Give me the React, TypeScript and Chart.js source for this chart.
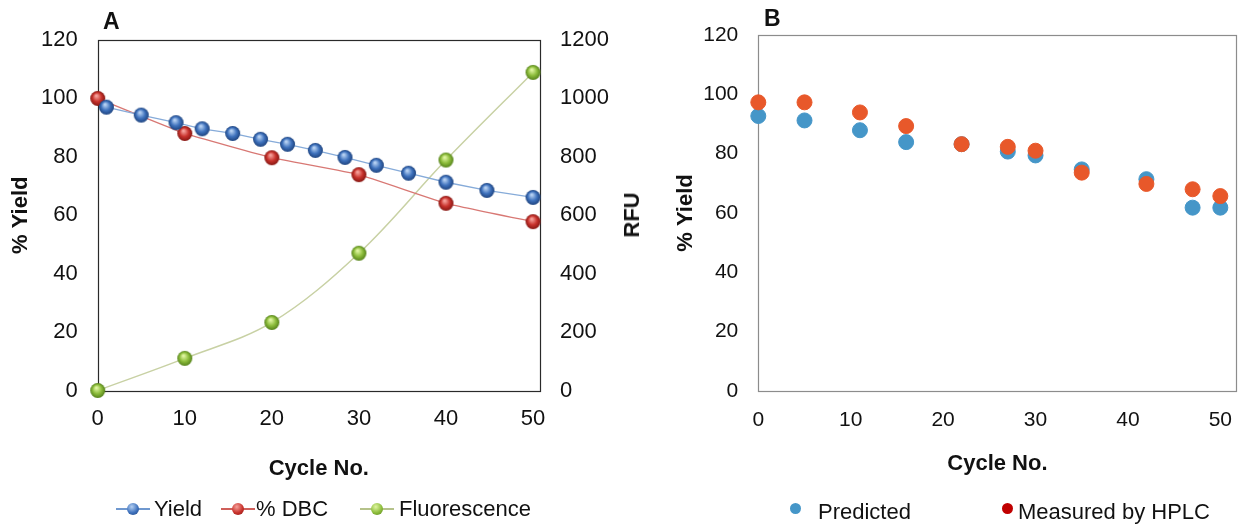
import React, { useEffect, useRef } from "react";
import { Chart, registerables } from "chart.js";

Chart.register(...registerables);

// ---- Panel A data ----
const yieldCycles = [1, 5, 9, 12, 15.5, 18.7, 21.8, 25, 28.4, 32, 35.7, 40, 44.7, 50];
const yieldValues = [97, 94.3, 91.7, 89.6, 88, 86, 84.3, 82.2, 79.8, 77.1, 74.4, 71.3, 68.5, 66.1];
const dbcCycles = [0, 10, 20, 30, 40, 50];
const dbcValues = [100, 88, 79.7, 73.9, 64.1, 57.8];
const fluorCycles = [0, 10, 20, 30, 40, 50];
const fluorValues = [0, 110, 233, 470, 789, 1089];

// ---- Panel B data ----
const bCycles = [0, 5, 11, 16, 22, 27, 30, 35, 42, 47, 50];
const predictedValues = [92.7, 91.2, 87.9, 83.9, 83.2, 80.7, 79.4, 74.7, 71.4, 61.8, 61.8];
const measuredValues = [97.3, 97.3, 93.9, 89.3, 83.2, 82.3, 81.0, 73.6, 69.8, 68.0, 65.7];

// ---- Tick labels ----
const xTicks = [0, 10, 20, 30, 40, 50];
const yTicks = [0, 20, 40, 60, 80, 100, 120];
const rfuTicks = [0, 200, 400, 600, 800, 1000, 1200];

const FONT = "'Liberation Sans', Arial, Helvetica, sans-serif";

function sphere(base: string, light: string, dark: string, r: number) {
  const c = document.createElement("canvas");
  const s = Math.ceil(r * 2 + 2);
  c.width = s;
  c.height = s;
  const g = c.getContext("2d")!;
  const grad = g.createRadialGradient(s * 0.42, s * 0.34, r * 0.1, s / 2, s / 2, r);
  grad.addColorStop(0, light);
  grad.addColorStop(0.55, base);
  grad.addColorStop(1, dark);
  g.fillStyle = grad;
  g.beginPath();
  g.arc(s / 2, s / 2, r, 0, Math.PI * 2);
  g.fill();
  return c;
}

const framePlugin = {
  id: "frame",
  beforeDatasetsDraw(chart: any, _args: any, opts: any) {
    const { left, top, right, bottom } = chart.chartArea;
    const ctx = chart.ctx;
    ctx.save();
    ctx.strokeStyle = opts.color || "#000";
    ctx.lineWidth = opts.width || 1;
    ctx.strokeRect(Math.round(left) + 0.5, Math.round(top) + 0.5, Math.round(right - left), Math.round(bottom - top));
    ctx.restore();
  },
};

const tickFontA = { family: FONT, size: 22 };
const tickFontB = { family: FONT, size: 21 };
const titleFont = { family: FONT, size: 22, weight: "bold" as const };

function setTicks(values: number[]) {
  return (s: any) => {
    s.ticks = values.map((v) => ({ value: v }));
  };
}

const plainLabel = (v: any) => String(v);

function fitHeight(h: number) {
  return (s: any) => {
    s.height = h;
    s.paddingLeft = 0;
    s.paddingRight = 0;
  };
}
function fitWidth(w: number) {
  return (s: any) => {
    s.width = w;
  };
}

function ChartA() {
  const ref = useRef<HTMLCanvasElement>(null);
  useEffect(() => {
    const blue = sphere("#3f72bd", "#b5d0f2", "#1d437f", 7.5);
    const red = sphere("#c8322c", "#f5a09a", "#861713", 7.5);
    const green = sphere("#8dbd3c", "#dff5a0", "#55821a", 7.5);
    const chart = new Chart(ref.current!, {
      type: "line",
      data: {
        datasets: [
          {
            label: "Yield",
            data: yieldCycles.map((x, i) => ({ x, y: yieldValues[i] })),
            yAxisID: "y",
            borderColor: "#86abd9",
            borderWidth: 1.3,
            pointStyle: blue as any,
            pointRadius: 7.5,
            tension: 0,
            clip: false as any,
          },
          {
            label: "% DBC",
            data: dbcCycles.map((x, i) => ({ x, y: dbcValues[i] })),
            yAxisID: "y",
            borderColor: "#d87874",
            borderWidth: 1.3,
            pointStyle: red as any,
            pointRadius: 7.5,
            tension: 0.1,
            clip: false as any,
          },
          {
            label: "Fluorescence",
            data: fluorCycles.map((x, i) => ({ x, y: fluorValues[i] })),
            yAxisID: "y2",
            borderColor: "#c8d1a4",
            borderWidth: 1.5,
            pointStyle: green as any,
            pointRadius: 7.5,
            tension: 0.35,
            clip: false as any,
          },
        ],
      },
      options: {
        responsive: false,
        animation: false,
        layout: { padding: { left: 0, right: 0, top: 40, bottom: 36.5 } },
        plugins: {
          legend: { display: false },
          tooltip: { enabled: false },
          // @ts-ignore
          frame: { color: "#2a2a2a", width: 1.2 },
        },
        scales: {
          x: {
            type: "linear",
            min: 0,
            max: 50.8,
            afterBuildTicks: setTicks(xTicks),
            afterFit: fitHeight(100),
            grid: { display: false, drawTicks: false },
            border: { display: false },
            ticks: { padding: 15, font: tickFontA, color: "#111", maxRotation: 0, callback: plainLabel },
            title: { display: true, text: "Cycle No.", font: titleFont, color: "#111", padding: { top: 0, bottom: 8 } },
          },
          y: {
            type: "linear",
            position: "left",
            min: 0,
            max: 120,
            afterBuildTicks: setTicks(yTicks),
            afterFit: fitWidth(97.7),
            grid: { display: false, drawTicks: false },
            border: { display: false },
            ticks: { padding: 20, font: tickFontA, color: "#111", callback: plainLabel },
            title: { display: true, text: "% Yield", font: titleFont, color: "#111", padding: { top: 8, bottom: 0 } },
          },
          y2: {
            type: "linear",
            position: "right",
            min: 0,
            max: 1200,
            afterBuildTicks: setTicks(rfuTicks),
            afterFit: fitWidth(120),
            grid: { display: false, drawTicks: false },
            border: { display: false },
            ticks: { padding: 20, font: tickFontA, color: "#111", callback: plainLabel },
          },
        },
      },
      plugins: [framePlugin],
    });
    return () => chart.destroy();
  }, []);
  return <canvas ref={ref} width={660} height={527} style={{ position: "absolute", left: 0, top: 0, width: 660, height: 527 }} />;
}

function ChartB() {
  const ref = useRef<HTMLCanvasElement>(null);
  useEffect(() => {
    const chart = new Chart(ref.current!, {
      type: "scatter",
      data: {
        datasets: [
          {
            label: "Predicted",
            data: bCycles.map((x, i) => ({ x, y: predictedValues[i] })),
            backgroundColor: "#4596c8",
            borderColor: "#4596c8",
            pointRadius: 7.5,
            order: 1,
            clip: false as any,
          },
          {
            label: "Measured by HPLC",
            data: bCycles.map((x, i) => ({ x, y: measuredValues[i] })),
            backgroundColor: "#e8582a",
            borderColor: "#e8582a",
            pointRadius: 7.5,
            order: 0,
            clip: false as any,
          },
        ],
      },
      options: {
        responsive: false,
        animation: false,
        layout: { padding: { left: 0, right: 7, top: 35, bottom: 36 } },
        plugins: {
          legend: { display: false },
          tooltip: { enabled: false },
          // @ts-ignore
          frame: { color: "#8c8c8c", width: 1.2 },
        },
        scales: {
          x: {
            type: "linear",
            min: 0,
            max: 51.75,
            afterBuildTicks: setTicks(xTicks),
            afterFit: fitHeight(100),
            grid: { display: false, drawTicks: false },
            border: { display: false },
            ticks: { padding: 17, font: tickFontB, color: "#111", maxRotation: 0, callback: plainLabel },
            title: { display: true, text: "Cycle No.", font: titleFont, color: "#111", padding: { top: 0, bottom: 14 } },
          },
          y: {
            type: "linear",
            position: "left",
            min: 0,
            max: 120,
            afterBuildTicks: setTicks(yTicks),
            afterFit: fitWidth(98.3),
            grid: { display: false, drawTicks: false },
            border: { display: false },
            ticks: { padding: 20, font: tickFontB, color: "#111", callback: plainLabel },
            title: { display: true, text: "% Yield", font: titleFont, color: "#111", padding: { top: 13, bottom: 0 } },
          },
        },
      },
      plugins: [framePlugin],
    });
    return () => chart.destroy();
  }, []);
  return <canvas ref={ref} width={585} height={527} style={{ position: "absolute", left: 660, top: 0, width: 585, height: 527 }} />;
}

function LineMarker({ left, color, line, light, dark }: { left: number; color: string; line: string; light: string; dark: string }) {
  return (
    <div style={{ position: "absolute", left, top: 500, width: 34, height: 18 }}>
      <div style={{ position: "absolute", left: 0, top: 8, width: 34, height: 1.6, background: line }} />
      <div
        style={{
          position: "absolute",
          left: 11,
          top: 3,
          width: 12,
          height: 12,
          borderRadius: "50%",
          background: `radial-gradient(circle at 40% 32%, ${light} 0%, ${color} 55%, ${dark} 100%)`,
        }}
      />
    </div>
  );
}

const legendText: React.CSSProperties = {
  position: "absolute",
  fontFamily: FONT,
  fontSize: 22,
  color: "#111",
  lineHeight: "24px",
  whiteSpace: "nowrap",
};

export default function App() {
  return (
    <div style={{ position: "absolute", left: 0, top: 0, width: 1245, height: 527, background: "#fff", overflow: "hidden" }}>
      <ChartA />
      <ChartB />
      <div style={{ position: "absolute", left: 103, top: 8, fontFamily: FONT, fontWeight: "bold", fontSize: 23, lineHeight: "26px", color: "#111" }}>A</div>
      <div style={{ position: "absolute", left: 764, top: 5, fontFamily: FONT, fontWeight: "bold", fontSize: 23, lineHeight: "26px", color: "#111" }}>B</div>
      <div
        style={{
          position: "absolute",
          left: 632,
          top: 215,
          transform: "translate(-50%, -50%) rotate(-90deg)",
          fontFamily: FONT,
          fontWeight: "bold",
          fontSize: 22,
          lineHeight: "24px",
          color: "#111",
          whiteSpace: "nowrap",
        }}
      >
        RFU
      </div>

      {/* Legend A */}
      <LineMarker left={116} color="#3f72bd" line="#6f98cf" light="#b5d0f2" dark="#1d437f" />
      <div style={{ ...legendText, left: 154, top: 497 }}>Yield</div>
      <LineMarker left={221} color="#c8322c" line="#cf5f5a" light="#f5a09a" dark="#861713" />
      <div style={{ ...legendText, left: 256, top: 497 }}>% DBC</div>
      <LineMarker left={360} color="#8dbd3c" line="#b5c28a" light="#dff5a0" dark="#55821a" />
      <div style={{ ...legendText, left: 399, top: 497 }}>Fluorescence</div>

      {/* Legend B */}
      <div style={{ position: "absolute", left: 790, top: 503, width: 11, height: 11, borderRadius: "50%", background: "#4596c8" }} />
      <div style={{ ...legendText, left: 818, top: 500 }}>Predicted</div>
      <div style={{ position: "absolute", left: 1002, top: 503, width: 11, height: 11, borderRadius: "50%", background: "#c00000" }} />
      <div style={{ ...legendText, left: 1018, top: 500 }}>Measured by HPLC</div>
    </div>
  );
}
